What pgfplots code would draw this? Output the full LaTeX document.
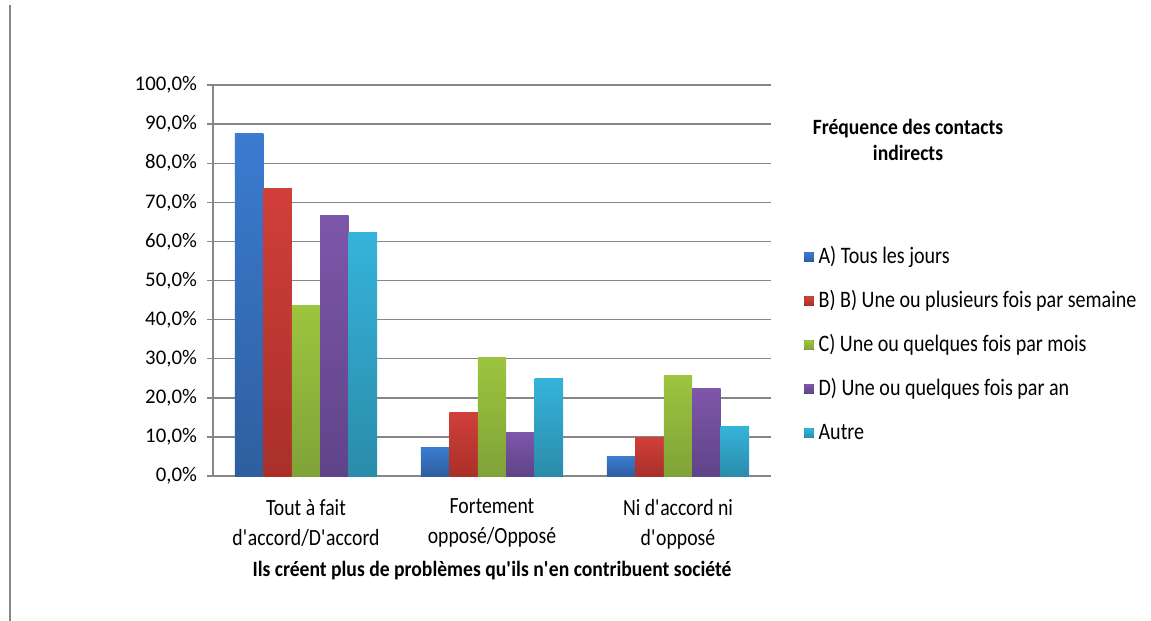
\documentclass[border=0pt]{standalone}
\usepackage{fontspec}
\setmainfont{Carlito}
\newfontfamily\cf{Carlito}[FakeStretch=0.9]
\newfontfamily\cfl{Carlito}[FakeStretch=0.85]
\usepackage{pgfplots}
\pgfplotsset{compat=1.18}

\definecolor{gridgray}{RGB}{134,134,134}
\definecolor{blueT}{RGB}{59,123,208}   \definecolor{blueB}{RGB}{46,95,159}
\definecolor{redT}{RGB}{209,63,58}     \definecolor{redB}{RGB}{169,48,41}
\definecolor{greenT}{RGB}{157,196,62}  \definecolor{greenB}{RGB}{127,163,56}
\definecolor{purpT}{RGB}{126,86,170}   \definecolor{purpB}{RGB}{95,68,136}
\definecolor{cyanT}{RGB}{54,179,218}   \definecolor{cyanB}{RGB}{42,140,170}
\newcommand\q{\textquotesingle}
\newcommand\lgap{\kern2.5pt}

% one bar per \addplot so that each bar gets its own gradient
\pgfplotsset{
  sA/.style={ybar, bar width=0.153, bar shift=-0.306, draw=none, top color=blueT, bottom color=blueB},
  sB/.style={ybar, bar width=0.153, bar shift=-0.153, draw=none, top color=redT, bottom color=redB},
  sC/.style={ybar, bar width=0.153, bar shift=0,      draw=none, top color=greenT, bottom color=greenB},
  sD/.style={ybar, bar width=0.153, bar shift=0.153,  draw=none, top color=purpT, bottom color=purpB},
  sE/.style={ybar, bar width=0.153, bar shift=0.306,  draw=none, top color=cyanT, bottom color=cyanB},
}

\begin{document}
\begin{tikzpicture}
\path[use as bounding box] (-106.5pt,-72.5pt) rectangle (469pt,238pt);
% frame line at the left edge of the original screenshot
\draw[gridgray, line width=0.7pt] (-101.5pt,-72.5pt) -- (-101.5pt,235.5pt);
\begin{axis}[
  at={(0pt,0pt)}, anchor=south west,
  scale only axis, width=279pt, height=195.5pt,
  xmin=-0.5, xmax=2.5, ymin=0, ymax=100,
  axis lines=left, axis line style={-, gridgray, line width=0.7pt},
  xtick={0,1,2},
  xticklabels={Tout à fait\\d\q accord/D\q accord, Fortement\\opposé/Opposé, Ni d\q accord ni\\d\q opposé},
  xticklabel style={font=\cfl\fontsize{11.6}{15}\selectfont, align=center, yshift=-5pt},
  x tick style={draw=none},
  extra x ticks={-0.5,0.5,1.5,2.5}, extra x tick labels={},
  extra x tick style={grid=none, tick style={draw=gridgray, line width=0.7pt}},
  ytick={0,10,...,100},
  ytick style={draw=gridgray, line width=0.7pt},
  tick align=outside, major tick length=3pt,
  ymajorgrids, grid style={gridgray, line width=0.7pt},
  /pgf/number format/assume math mode=true,
  yticklabel={\pgfmathprintnumber[fixed,fixed zerofill,precision=1,use comma]{\tick}\%},
  yticklabel style={font=\fontsize{10.4}{12}\selectfont, xshift=-1.5pt},
  xlabel={Ils créent plus de problèmes qu\q ils n\q en contribuent société},
  xlabel style={font=\cf\bfseries\fontsize{10.9}{13}\selectfont, at={(axis description cs:0.5,-0.2430)}, anchor=center},
  legend style={draw=none, fill=none, at={(1.0484,0.599)}, anchor=north west,
    font=\cfl\fontsize{11.8}{13}\selectfont, row sep=11pt,
    nodes={inner sep=0pt, text height=8.5pt, text depth=2.5pt}},
  legend cell align=left,
  legend image code/.code={\fill[#1] (0pt,-2.4pt) rectangle (4.6pt,2.4pt);},
]
\addplot[sA] coordinates {(0,87.6)};
\addplot[sA, forget plot] coordinates {(1,7.2)};
\addplot[sA, forget plot] coordinates {(2,4.9)};
\addplot[sB] coordinates {(0,73.6)};
\addplot[sB, forget plot] coordinates {(1,16.2)};
\addplot[sB, forget plot] coordinates {(2,9.9)};
\addplot[sC] coordinates {(0,43.7)};
\addplot[sC, forget plot] coordinates {(1,30.2)};
\addplot[sC, forget plot] coordinates {(2,25.6)};
\addplot[sD] coordinates {(0,66.5)};
\addplot[sD, forget plot] coordinates {(1,11.1)};
\addplot[sD, forget plot] coordinates {(2,22.3)};
\addplot[sE] coordinates {(0,62.4)};
\addplot[sE, forget plot] coordinates {(1,25.0)};
\addplot[sE, forget plot] coordinates {(2,12.6)};
\legend{\lgap A) Tous les jours, \lgap B) B) Une ou plusieurs fois par semaine, \lgap C) Une ou quelques fois par mois, \lgap D) Une ou quelques fois par an, \lgap Autre}
\end{axis}
\node[font=\cf\bfseries\fontsize{10.9}{13}\selectfont, align=center] at (347.5pt,168pt) {Fréquence des contacts\\indirects};
\end{tikzpicture}
\end{document}
